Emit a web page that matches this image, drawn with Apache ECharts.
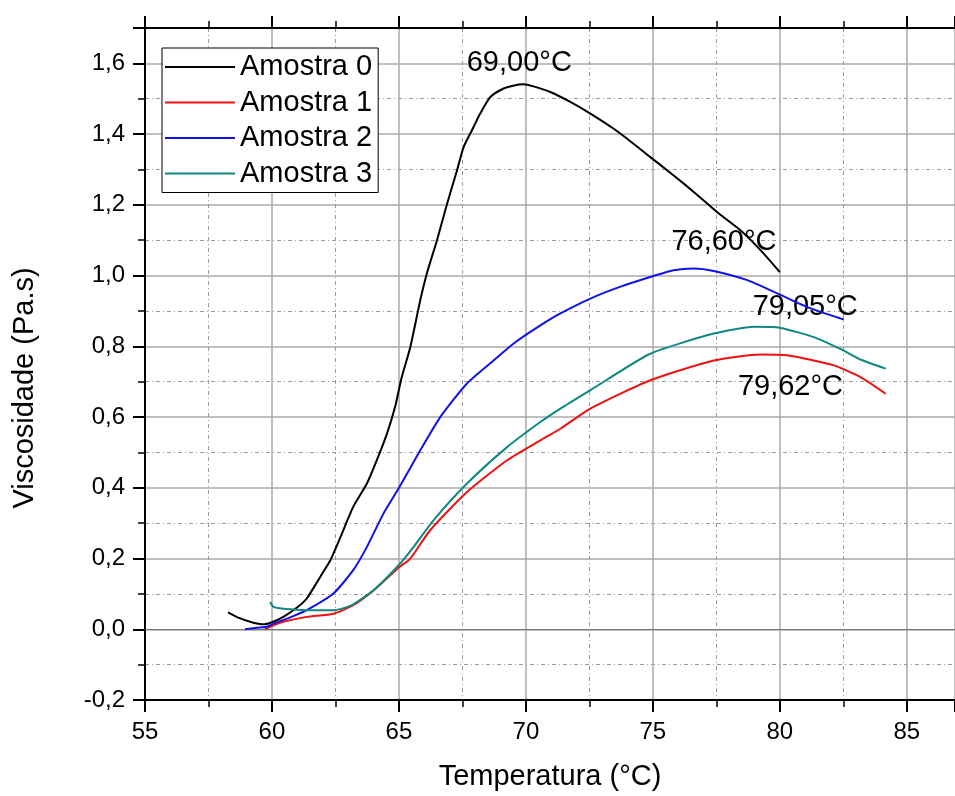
<!DOCTYPE html>
<html>
<head>
<meta charset="utf-8">
<script src="https://cdn.jsdelivr.net/npm/echarts@6/dist/echarts.min.js"></script>
<style>
html, body { margin: 0; padding: 0; background: #fff; }
#div1 { width: 955px; height: 796px; }
</style>
</head>
<body>
<div id="div1"></div>
<script>
// dados
var names = ['Amostra 0', 'Amostra 1', 'Amostra 2', 'Amostra 3'];
var colors = ['#000000', '#ee1111', '#1010e8', '#108880'];

var temp0 = [58.27, 58.7, 59.2, 59.65, 60.0, 60.45, 61.0, 61.37, 61.9, 62.3, 62.7, 63.2, 63.74, 64.13, 64.53, 64.85, 65.1, 65.45, 65.84, 66.1, 66.5, 66.9, 67.29, 67.55, 67.94, 68.2, 68.6, 69.12, 69.5, 69.9, 70.3, 70.96, 71.75, 72.54, 73.46, 74.2, 74.9, 75.56, 76.22, 77.14, 77.66, 78.45, 79.24, 80.0];
var visc0 = [0.048, 0.032, 0.02, 0.014, 0.02, 0.035, 0.062, 0.087, 0.148, 0.195, 0.261, 0.346, 0.412, 0.478, 0.553, 0.629, 0.71, 0.798, 0.930, 1.006, 1.10, 1.204, 1.298, 1.364, 1.42, 1.458, 1.505, 1.529, 1.537, 1.541, 1.535, 1.519, 1.491, 1.458, 1.415, 1.375, 1.335, 1.298, 1.26, 1.204, 1.172, 1.128, 1.072, 1.010];

var temp1 = [59.73, 60.06, 60.45, 61.37, 62.42, 63.2, 64.0, 65.02, 65.45, 66.23, 67.68, 69.26, 70.57, 71.36, 72.54, 74.9, 77.4, 79.24, 80.29, 82.13, 83.18, 84.17];
var visc1 = [0.0, 0.011, 0.021, 0.035, 0.044, 0.068, 0.11, 0.176, 0.2, 0.28, 0.388, 0.478, 0.534, 0.567, 0.624, 0.704, 0.76, 0.777, 0.775, 0.746, 0.713, 0.666];

var temp2 = [58.94, 59.4, 59.8, 60.06, 60.7, 61.37, 62.42, 63.2, 63.74, 64.39, 65.02, 65.84, 66.63, 67.68, 68.73, 69.52, 70.57, 71.36, 72.54, 73.7, 74.9, 75.82, 76.61, 77.4, 78.72, 79.77, 81.08, 82.52];
var visc2 = [0.0, 0.004, 0.007, 0.016, 0.033, 0.054, 0.101, 0.167, 0.233, 0.327, 0.402, 0.506, 0.60, 0.695, 0.76, 0.808, 0.859, 0.893, 0.935, 0.968, 0.996, 1.015, 1.020, 1.013, 0.987, 0.954, 0.911, 0.876];

var temp3 = [59.93, 60.06, 60.45, 61.37, 62.42, 63.08, 64.0, 65.05, 65.58, 66.36, 67.68, 69.26, 70.57, 71.36, 72.54, 74.9, 77.4, 78.98, 80.03, 81.34, 82.4, 83.2, 84.17];
var visc3 = [0.077, 0.063, 0.058, 0.054, 0.054, 0.066, 0.11, 0.186, 0.233, 0.308, 0.412, 0.515, 0.586, 0.624, 0.676, 0.779, 0.836, 0.855, 0.852, 0.826, 0.792, 0.762, 0.737];

// rótulos dos picos (texto e posição em coordenadas do gráfico)
var peakLabels = ['69,00°C', '79,62°C', '76,60°C', '79,05°C'];
var peakX = [69.74, 80.42, 77.8, 81.0];
var peakY = [1.602, 0.684, 1.094, 0.91];

var temps = [temp0, temp1, temp2, temp3];
var viscs = [visc0, visc1, visc2, visc3];

var font = "'Liberation Sans', Arial, sans-serif";

function pairs(xs, ys) {
    var out = [];
    for (var i = 0; i < xs.length; i++) {
        out.push([xs[i], ys[i]]);
    }
    return out;
}

function fmt(v) {
    return v.toFixed(1).replace('.', ',');
}

var chart = echarts.init(document.getElementById('div1'));

var series = [];
for (var i = 0; i < names.length; i++) {
    series.push({
        name: names[i],
        type: 'line',
        data: pairs(temps[i], viscs[i]),
        symbol: 'none',
        smooth: 0.2,
        lineStyle: { color: colors[i], width: 2 },
        itemStyle: { color: colors[i] },
        z: 5,
        markPoint: {
            symbol: 'circle',
            symbolSize: 0,
            silent: true,
            label: {
                show: true,
                position: 'inside',
                color: '#000',
                fontSize: 29,
                fontFamily: font,
                formatter: peakLabels[i]
            },
            data: [{ coord: [peakX[i], peakY[i]] }]
        }
    });
}

// linha do zero
series[0].markLine = {
    silent: true,
    symbol: 'none',
    label: { show: false },
    lineStyle: { color: '#777', width: 1, type: 'solid' },
    data: [{ yAxis: 0 }]
};

var option = {
    backgroundColor: '#fff',
    animation: false,
    grid: { left: 145, top: 28, width: 810, height: 672 },
    legend: {
        orient: 'vertical',
        left: 162,
        top: 48,
        padding: [4, 6, 4, 3],
        itemGap: 5.5,
        itemWidth: 70,
        itemHeight: 2,
        icon: 'rect',
        borderColor: '#000',
        borderWidth: 1,
        backgroundColor: '#fff',
        textStyle: { fontSize: 29, fontFamily: font, color: '#000', lineHeight: 30 },
        data: names
    },
    xAxis: [
        {
            type: 'value',
            min: 55,
            max: 86.9,
            interval: 5,
            position: 'bottom',
            name: 'Temperatura (°C)',
            nameLocation: 'middle',
            nameGap: 62,
            nameTextStyle: { fontSize: 29, fontFamily: font, color: '#000' },
            axisLine: { onZero: false, lineStyle: { color: '#000', width: 2 } },
            axisTick: { inside: false, length: 12, lineStyle: { color: '#000', width: 2 } },
            minorTick: { show: true, splitNumber: 2, length: 7, lineStyle: { color: '#000', width: 1.5 } },
            axisLabel: { margin: 20, fontSize: 24, fontFamily: font, color: '#000', showMaxLabel: false },
            splitLine: { show: true, lineStyle: { color: '#aaa', width: 1.5 } },
            minorSplitLine: { show: true, lineStyle: { color: '#999', width: 1, type: [4, 3, 1, 3] } }
        },
        {
            type: 'value',
            min: 55,
            max: 86.9,
            interval: 5,
            position: 'top',
            axisLine: { onZero: false, lineStyle: { color: '#000', width: 2 } },
            axisTick: { inside: false, length: 12, lineStyle: { color: '#000', width: 2 } },
            minorTick: { show: true, splitNumber: 2, length: 7, lineStyle: { color: '#000', width: 1.5 } },
            axisLabel: { show: false },
            splitLine: { show: false }
        }
    ],
    yAxis: {
        type: 'value',
        min: -0.2,
        max: 1.7,
        interval: 0.2,
        name: 'Viscosidade (Pa.s)',
        nameLocation: 'middle',
        nameGap: 106,
        nameTextStyle: { fontSize: 29, fontFamily: font, color: '#000', padding: [0, 48, 0, 0] },
        axisLine: { onZero: false, lineStyle: { color: '#000', width: 2 } },
        axisTick: { inside: false, length: 12, lineStyle: { color: '#000', width: 2 } },
        minorTick: { show: true, splitNumber: 2, length: 7, lineStyle: { color: '#000', width: 1.5 } },
        axisLabel: {
            margin: 20,
            fontSize: 24,
            fontFamily: font,
            color: '#000',
            showMaxLabel: false,
            formatter: function (v) { return fmt(v); }
        },
        splitLine: { show: true, lineStyle: { color: '#aaa', width: 1.5 } },
        minorSplitLine: { show: true, lineStyle: { color: '#999', width: 1, type: [4, 3, 1, 3] } }
    },
    series: series
};

chart.setOption(option);
</script>
</body>
</html>
